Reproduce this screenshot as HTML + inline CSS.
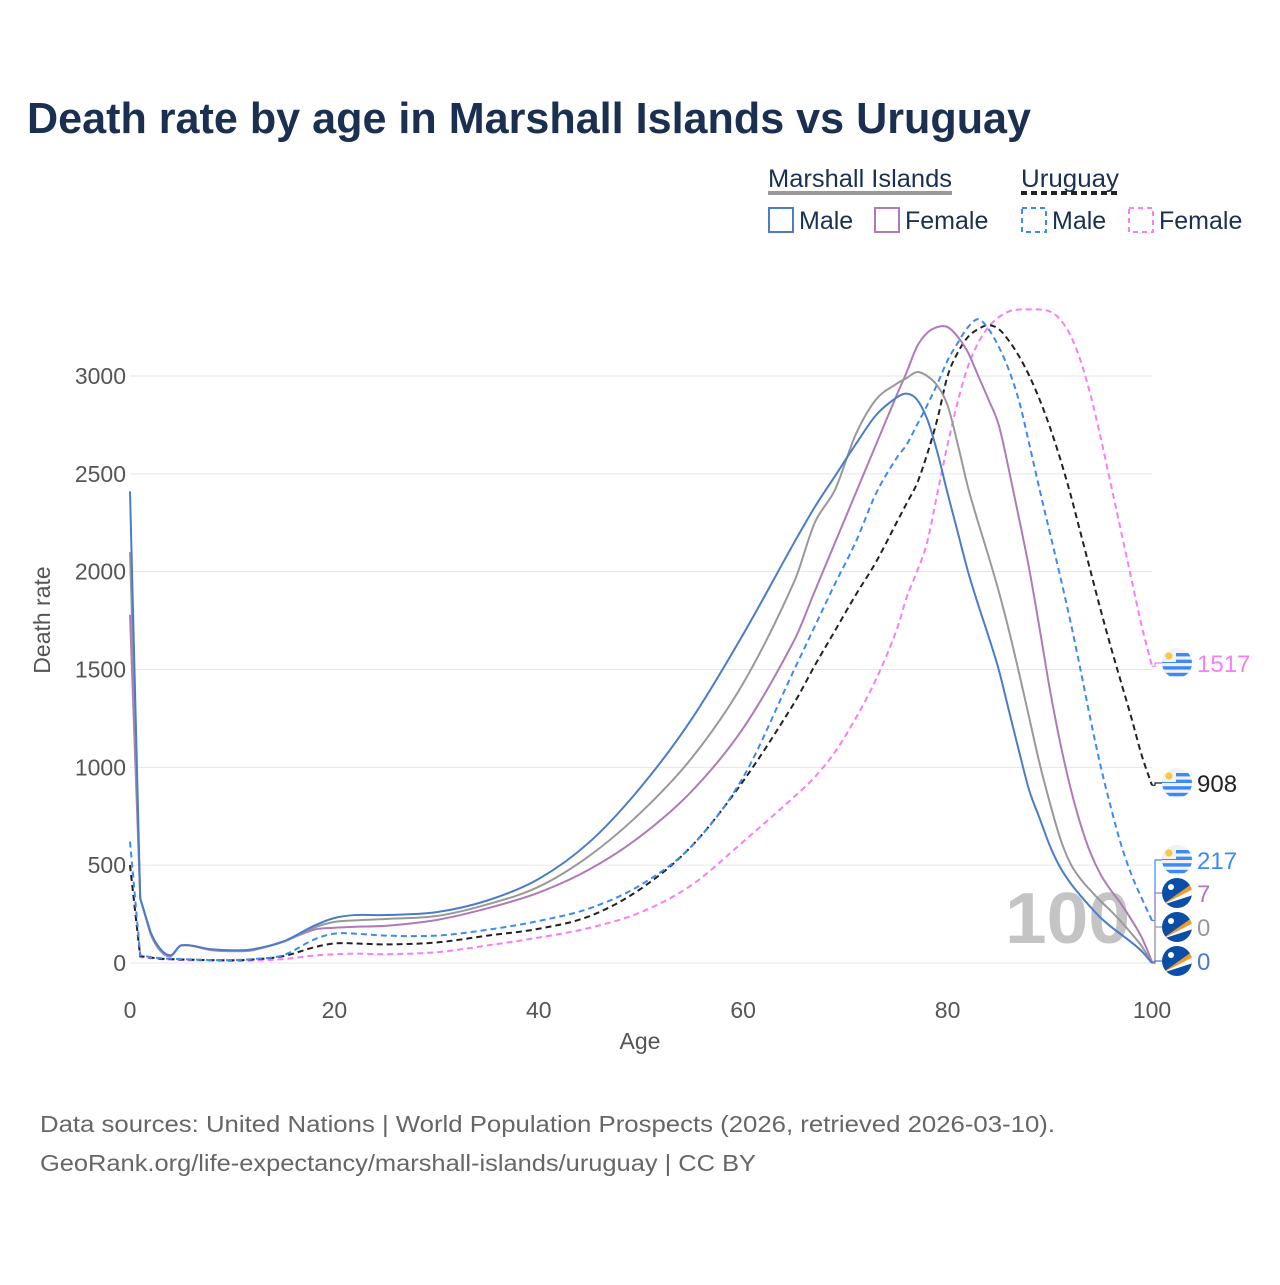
<!DOCTYPE html>
<html><head><meta charset="utf-8"><style>
body{margin:0;background:#fff;font-family:"Liberation Sans",sans-serif}
svg text{font-family:"Liberation Sans",sans-serif}
</style></head><body>
<svg id="c" width="1280" height="1280" xmlns="http://www.w3.org/2000/svg">
<defs id="defs"></defs>
<text x="27" y="133" font-size="44" font-weight="bold" fill="#1b3050" textLength="1004" lengthAdjust="spacingAndGlyphs">Death rate by age in Marshall Islands vs Uruguay</text>
<g>
<text x="768" y="187" font-size="25" fill="#1b3050" textLength="184" lengthAdjust="spacingAndGlyphs">Marshall Islands</text>
<line x1="768" y1="193" x2="952" y2="193" stroke="#999" stroke-width="4"/>
<text x="1021" y="187" font-size="25" fill="#1b3050" textLength="98" lengthAdjust="spacingAndGlyphs">Uruguay</text>
<line x1="1021" y1="193" x2="1119" y2="193" stroke="#222" stroke-width="4" stroke-dasharray="6,4"/>
<g><rect x="769" y="208" width="24" height="24" fill="none" stroke="#4a7cc8" stroke-width="2"/><text x="799" y="229" font-size="25" fill="#1b3050">Male</text></g>
<g><rect x="875" y="208" width="24" height="24" fill="none" stroke="#b07ab8" stroke-width="2"/><text x="905" y="229" font-size="25" fill="#1b3050">Female</text></g>
<g><rect x="1022" y="208" width="24" height="24" fill="none" stroke="#3d8af7" stroke-width="2" stroke-dasharray="5,4"/><text x="1052" y="229" font-size="25" fill="#1b3050">Male</text></g>
<g><rect x="1129" y="208" width="24" height="24" fill="none" stroke="#f77ef7" stroke-width="2" stroke-dasharray="5,4"/><text x="1159" y="229" font-size="25" fill="#1b3050">Female</text></g>
</g>
<text x="1005" y="943" font-size="72" font-weight="bold" fill="#c4c4c4" textLength="125" lengthAdjust="spacingAndGlyphs">100</text>
<g id="grid"></g><g id="lines"></g><g id="ends"></g>
<text x="640" y="1049" font-size="23" fill="#555" text-anchor="middle">Age</text>
<text transform="translate(50,620) rotate(-90)" font-size="23" fill="#555" text-anchor="middle">Death rate</text>
<text x="40" y="1132" font-size="23" fill="#666" textLength="1015" lengthAdjust="spacingAndGlyphs">Data sources: United Nations | World Population Prospects (2026, retrieved 2026-03-10).</text>
<text x="40" y="1171" font-size="23" fill="#666" textLength="716" lengthAdjust="spacingAndGlyphs">GeoRank.org/life-expectancy/marshall-islands/uruguay | CC BY</text>
</svg>
<script>
const ages=[0,1,2,3,4,5,8,10,12,15,18,20,22,25,30,35,40,45,50,55,60,65,67,69,71,73,75,76,77,78,79,80,81,82,83,84,85,86,87,88,89,90,91,92,93,94,95,96,97,98,99,100];
const mhMale=[2410,330,160,70,40,90,70,65,70,110,190,230,245,245,260,320,430,620,900,1250,1680,2150,2330,2490,2650,2800,2890,2910,2880,2780,2610,2400,2200,2000,1830,1670,1500,1290,1080,880,740,600,490,410,345,285,230,185,145,105,60,0];
const mhTotal=[2100,330,155,65,38,90,68,62,68,108,180,210,218,225,240,300,390,550,770,1050,1430,1950,2250,2420,2700,2880,2960,2990,3020,3000,2950,2850,2650,2430,2250,2080,1900,1700,1480,1250,1020,820,640,510,430,370,315,265,210,150,85,0];
const mhFemale=[1780,330,150,60,35,90,65,60,65,110,170,180,185,190,220,280,360,480,650,880,1200,1650,1900,2150,2400,2650,2900,3020,3150,3220,3250,3250,3200,3120,3000,2880,2750,2520,2270,2010,1710,1400,1130,900,710,560,450,370,300,220,130,7];
const uyMale=[620,40,30,25,22,20,15,15,20,40,120,150,150,140,140,170,215,280,400,600,950,1500,1720,1940,2150,2400,2580,2650,2750,2850,2960,3080,3170,3250,3290,3240,3150,3030,2870,2650,2420,2200,1980,1750,1500,1240,1000,790,600,450,330,217];
const uyTotal=[500,35,28,22,20,18,15,14,18,35,80,100,100,95,105,140,175,240,380,600,930,1330,1520,1700,1880,2050,2250,2350,2450,2600,2780,3000,3120,3200,3240,3260,3240,3180,3100,3000,2880,2740,2580,2400,2200,2000,1800,1610,1430,1250,1060,908];
const uyFemale=[500,30,25,20,18,15,12,10,12,20,38,45,48,45,55,90,130,180,260,400,620,850,950,1080,1250,1450,1700,1870,2000,2150,2400,2650,2870,3050,3170,3250,3300,3330,3340,3340,3340,3330,3290,3210,3080,2900,2680,2440,2200,1960,1720,1517];
const yTicks=[0,500,1000,1500,2000,2500,3000];
const xTicks=[0,20,40,60,80,100];
const endLabels=["1517","908","217","7","0","0"];
const NS="http://www.w3.org/2000/svg";
const X=a=>130+a*10.22, Y=v=>963-v*0.19567;
function el(t,at,p){const e=document.createElementNS(NS,t);for(const k in at)e.setAttribute(k,at[k]);p.appendChild(e);return e;}
function smooth(pts){let d='M'+pts[0][0]+','+pts[0][1];
 for(let i=0;i<pts.length-1;i++){const p0=pts[Math.max(0,i-1)],p1=pts[i],p2=pts[i+1],p3=pts[Math.min(pts.length-1,i+2)];
  const t=(i<2)?0:1/6;
  const s1=(p2[0]-p1[0])/Math.max(1e-6,(p2[0]-p0[0])), s2=(p2[0]-p1[0])/Math.max(1e-6,(p3[0]-p1[0]));
  d+=` C${p1[0]+(p2[0]-p0[0])*t*s1*2},${p1[1]+(p2[1]-p0[1])*t*s1*2} ${p2[0]-(p3[0]-p1[0])*t*s2*2},${p2[1]-(p3[1]-p1[1])*t*s2*2} ${p2[0]},${p2[1]}`;}
 return d;}
const grid=document.getElementById('grid');
yTicks.forEach(v=>{
 const l=el('line',{x1:130,x2:1152,y1:Y(v),y2:Y(v),stroke:'#e6e6e6','stroke-width':1},grid);
 
 
 const t=el('text',{x:126,y:Y(v)+8,'font-size':23,fill:'#555','text-anchor':'end'},grid);t.textContent=v;
 
 
});
xTicks.forEach(v=>{
 const t=el('text',{x:X(v),y:1018,'font-size':23,fill:'#555','text-anchor':'middle'},grid);t.textContent=v;
 
 
});
const series=[
 ['uy-female-line',uyFemale,'#f77ef7','6,4',663,'#f77ef7',true],
 ['uy-total-line',uyTotal,'#222','6,4',783,'#222',true],
 ['uy-male-line',uyMale,'#3d8af7','6,4',860,'#3d8af7',true],
 ['mh-female-line',mhFemale,'#b07ab8','',893,'#b07ab8',false],
 ['mh-total-line',mhTotal,'#999','',927,'#999',false],
 ['mh-male-line',mhMale,'#4a7cc8','',961,'#4a7cc8',false]];
const lines=document.getElementById('lines'),ends=document.getElementById('ends'),defs=document.getElementById('defs');
series.forEach((s,i)=>{
 const p=el('path',{d:smooth(ages.map((a,j)=>[X(a),Y(s[1][j])])),fill:'none',stroke:s[2],'stroke-width':2,'stroke-dasharray':s[3]||'none','stroke-linejoin':'round'},lines);
 
 
 const ly=s[4], y0=Y(s[1][s[1].length-1]);
 const c=el('polyline',{points:`1152,${y0} 1155,${y0} 1155,${ly} 1162,${ly}`,fill:'none',stroke:s[2],'stroke-width':1.2},ends);
 
 
 const cx=1177;
 const cp=el('clipPath',{id:'cl'+i},defs);el('circle',{cx:cx,cy:ly,r:15},cp);
 const g=el('g',{'clip-path':'url(#cl'+i+')'},ends);
 
 
 if(s[6]){
  el('rect',{x:cx-15,y:ly-15,width:30,height:30,fill:'#f2f2f2'},g);
  for(let k=0;k<4;k++) el('rect',{x:cx-15,y:ly-10+k*6.6,width:30,height:3.4,fill:'#3d8af7'},g);
  el('rect',{x:cx-15,y:ly-15,width:14,height:14,fill:'#f2f2f2'},g);
  el('circle',{cx:cx-8,cy:ly-7,r:3.6,fill:'#f6c945'},g);
 } else {
  el('rect',{x:cx-15,y:ly-15,width:30,height:30,fill:'#0a4ea8'},g);
  el('polygon',{points:`${cx-15},${ly+12} ${cx+16},${ly-10} ${cx+16},${ly-4}`,fill:'#f59a23'},g);
  el('polygon',{points:`${cx-15},${ly+12} ${cx+16},${ly-4} ${cx+16},${ly+2}`,fill:'#fff'},g);
  el('circle',{cx:cx-6,cy:ly-6,r:3,fill:'#fff'},g);
 }
 const t=el('text',{x:1197,y:ly+9,'font-size':24,fill:s[5]},ends);t.textContent=endLabels[i];
 
 
});
</script>
</body></html>
